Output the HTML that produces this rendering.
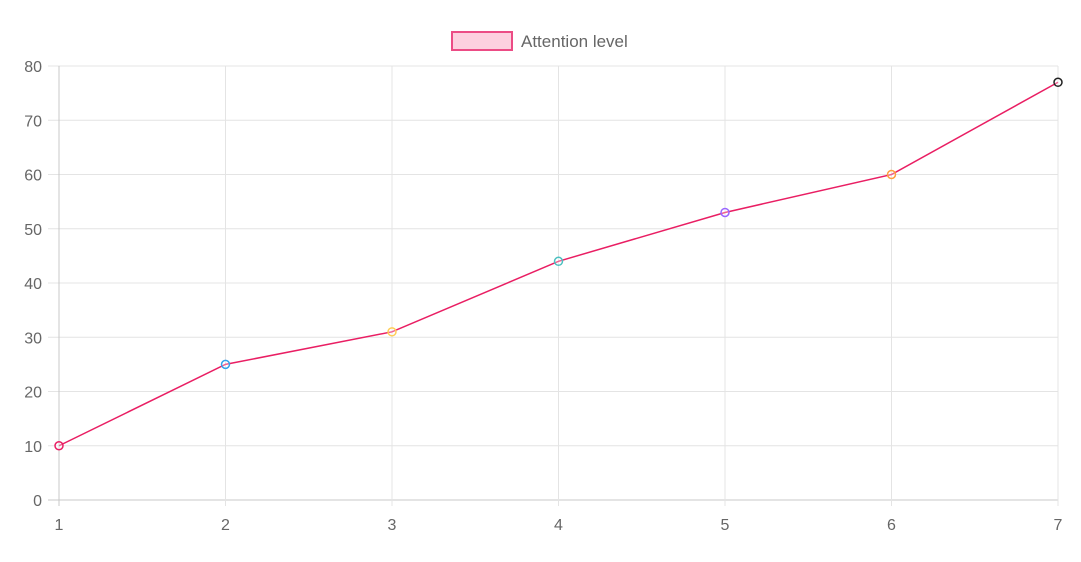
<!DOCTYPE html>
<html><head><meta charset="utf-8"><style>
body{margin:0;background:#fff;width:1081px;height:562px;overflow:hidden}
svg{display:block}
text{font-family:"Liberation Sans",Arial,sans-serif;fill:#666}
</style></head><body>
<svg id="chart" width="1081" height="562" xmlns="http://www.w3.org/2000/svg">
<g>
<rect x="452" y="32" width="60" height="18" fill="#fdd0df" stroke="#ec4c85" stroke-width="2"/>
<text x="521" y="47" font-size="17">Attention level</text>
</g>
<g id="grid"></g><g id="axes"></g><g id="series"></g>
</svg>
<script>
const categories=[1,2,3,4,5,6,7];
const values=[10,25,31,44,53,60,77];
const pointColors=["#e91e63","#36a2eb","#ffcd56","#4bc0c0","#9966ff","#ff9f40","#222222"];
const yTicks=[0,10,20,30,40,50,60,70,80];
const NS="http://www.w3.org/2000/svg";
const L=59,R=1058,T=66,B=500,yMax=80;
const xs=i=>L+(R-L)*i/(categories.length-1);
const ys=v=>B-(B-T)*v/yMax;
function mk(tag,attrs,parent){const e=document.createElementNS(NS,tag);for(const k in attrs)e.setAttribute(k,attrs[k]);parent.appendChild(e);return e;}
const grid=document.getElementById('grid'),axes=document.getElementById('axes'),series=document.getElementById('series');
yTicks.forEach(t=>{const y=ys(t);
const l=mk('line',{x1:48,x2:R,y1:y,y2:y,stroke:t===0?'#c8c8c8':'#e4e4e4','stroke-width':1},grid);


const tx=mk('text',{x:42,y:y+6,'font-size':16,'text-anchor':'end'},axes);tx.textContent=t;


});
categories.forEach((c,i)=>{const x=xs(i);
const l=mk('line',{x1:x,x2:x,y1:T,y2:506,stroke:i===0?'#c8c8c8':'#e4e4e4','stroke-width':1},grid);


const tx=mk('text',{x:x,y:530,'font-size':16,'text-anchor':'middle'},axes);tx.textContent=c;


});
const pl=mk('polyline',{points:values.map((v,i)=>xs(i)+','+ys(v)).join(' '),fill:'none',stroke:'#e91e63','stroke-width':1.5},series);


values.forEach((v,i)=>{
const c=mk('circle',{cx:xs(i),cy:ys(v),r:4,fill:'rgba(255,255,255,0.3)',stroke:pointColors[i],'stroke-width':1.5},series);


});
</script>
</body></html>
